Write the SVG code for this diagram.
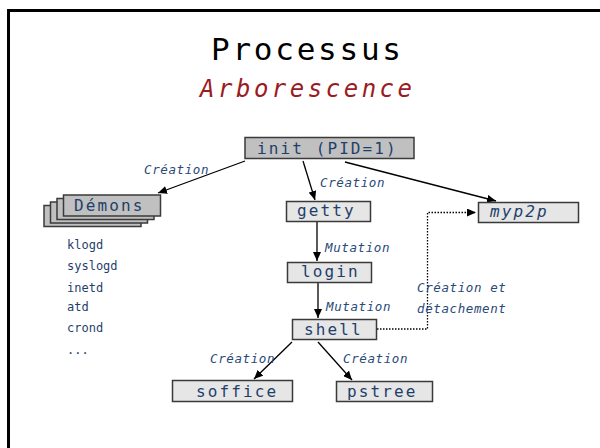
<svg xmlns="http://www.w3.org/2000/svg" width="600" height="448" viewBox="0 0 600 448">
<defs>
<marker id="ah" markerUnits="userSpaceOnUse" markerWidth="10" markerHeight="8" refX="9" refY="4" orient="auto">
<path d="M0,0 L9,4 L0,8 z" fill="#000"/>
</marker>
<style>
.box{fill:#e6e6e6;stroke:#3a3a3a;stroke-width:1.5}
.dark{fill:#c0c0c0}
.nt{font-family:"DejaVu Sans Mono",monospace;font-size:16px;letter-spacing:2.1px;fill:#1f3f6b}
.lb{font-family:"DejaVu Sans Mono",monospace;font-size:12.5px;font-style:italic;letter-spacing:0.6px;fill:#2a4a78}
.ls{font-family:"DejaVu Sans Mono",monospace;font-size:12px;fill:#1f3f6b}
.ln{stroke:#000;stroke-width:1.3;fill:none}
</style>
</defs>
<rect x="8.5" y="10.5" width="620" height="460" fill="#fff" stroke="#000" stroke-width="3"/>
<text x="306" y="60" text-anchor="middle" font-family="DejaVu Sans Mono, monospace" font-size="31" textLength="190" lengthAdjust="spacing" fill="#000">Processus</text>
<text x="306" y="96.5" text-anchor="middle" font-family="DejaVu Sans Mono, monospace" font-size="24" font-style="italic" textLength="212" lengthAdjust="spacing" fill="#9b1b22">Arborescence</text>
<g id="connectors">
<line class="ln" x1="245" y1="161" x2="158" y2="193" marker-end="url(#ah)"/>
<line class="ln" x1="303" y1="161" x2="315" y2="200" marker-end="url(#ah)"/>
<line class="ln" x1="345" y1="162" x2="496" y2="201" marker-end="url(#ah)"/>
<line class="ln" x1="317" y1="222" x2="317" y2="261" marker-end="url(#ah)" stroke-width="1.5"/>
<line class="ln" x1="318" y1="283" x2="318" y2="318" marker-end="url(#ah)" stroke-width="1.8"/>
<line class="ln" x1="292" y1="342" x2="254" y2="379" marker-end="url(#ah)"/>
<line class="ln" x1="318" y1="342" x2="352" y2="380" marker-end="url(#ah)"/>
<polyline class="ln" points="377,329 427.5,329 427.5,212.5 476,212.5" stroke-dasharray="1.5,1.5" marker-end="url(#ah)"/>
<text class="lb" x="144" y="174">Création</text>
<text class="lb" x="320" y="187">Création</text>
<text class="lb" x="325" y="252">Mutation</text>
<text class="lb" x="326" y="311">Mutation</text>
<text class="lb" x="417" y="292">Création et</text>
<text class="lb" x="417" y="313">détachement</text>
<text class="lb" x="210" y="363">Création</text>
<text class="lb" x="343" y="363">Création</text>
</g>
<g id="init">
<rect class="box dark" x="245" y="137.5" width="169" height="21"/>
<text class="nt" x="257" y="154">init (PID=1)</text>
</g>
<g id="demons">
<rect class="box dark" x="44" y="205.5" width="97" height="21"/>
<rect class="box dark" x="50.5" y="202" width="97" height="21"/>
<rect class="box dark" x="57" y="198.5" width="97" height="21"/>
<rect class="box dark" x="63.5" y="195" width="97" height="21"/>
<text class="nt" x="74" y="211">Démons</text>
</g>
<g id="getty">
<rect class="box" x="286.5" y="201.5" width="84" height="20"/>
<text class="nt" x="297" y="216">getty</text>
</g>
<g id="myp2p">
<rect class="box" x="478.5" y="202.5" width="100" height="20"/>
<text class="nt" x="490" y="217" font-style="italic">myp2p</text>
</g>
<g id="login">
<rect class="box" x="287.5" y="262.5" width="84" height="20"/>
<text class="nt" x="301" y="277">login</text>
</g>
<g id="shell">
<rect class="box" x="292.5" y="319.5" width="84" height="20"/>
<text class="nt" x="304" y="335">shell</text>
</g>
<g id="soffice">
<rect class="box" x="172.5" y="380.5" width="120" height="21"/>
<text class="nt" x="196" y="397">soffice</text>
</g>
<g id="pstree">
<rect class="box" x="336.5" y="381.5" width="96" height="20"/>
<text class="nt" x="347" y="397">pstree</text>
</g>
<g id="list">
<text class="ls" x="67" y="249">klogd</text>
<text class="ls" x="67" y="270">syslogd</text>
<text class="ls" x="67" y="292">inetd</text>
<text class="ls" x="67" y="311">atd</text>
<text class="ls" x="67" y="332">crond</text>
<text class="ls" x="67" y="354">...</text>
</g>
</svg>
